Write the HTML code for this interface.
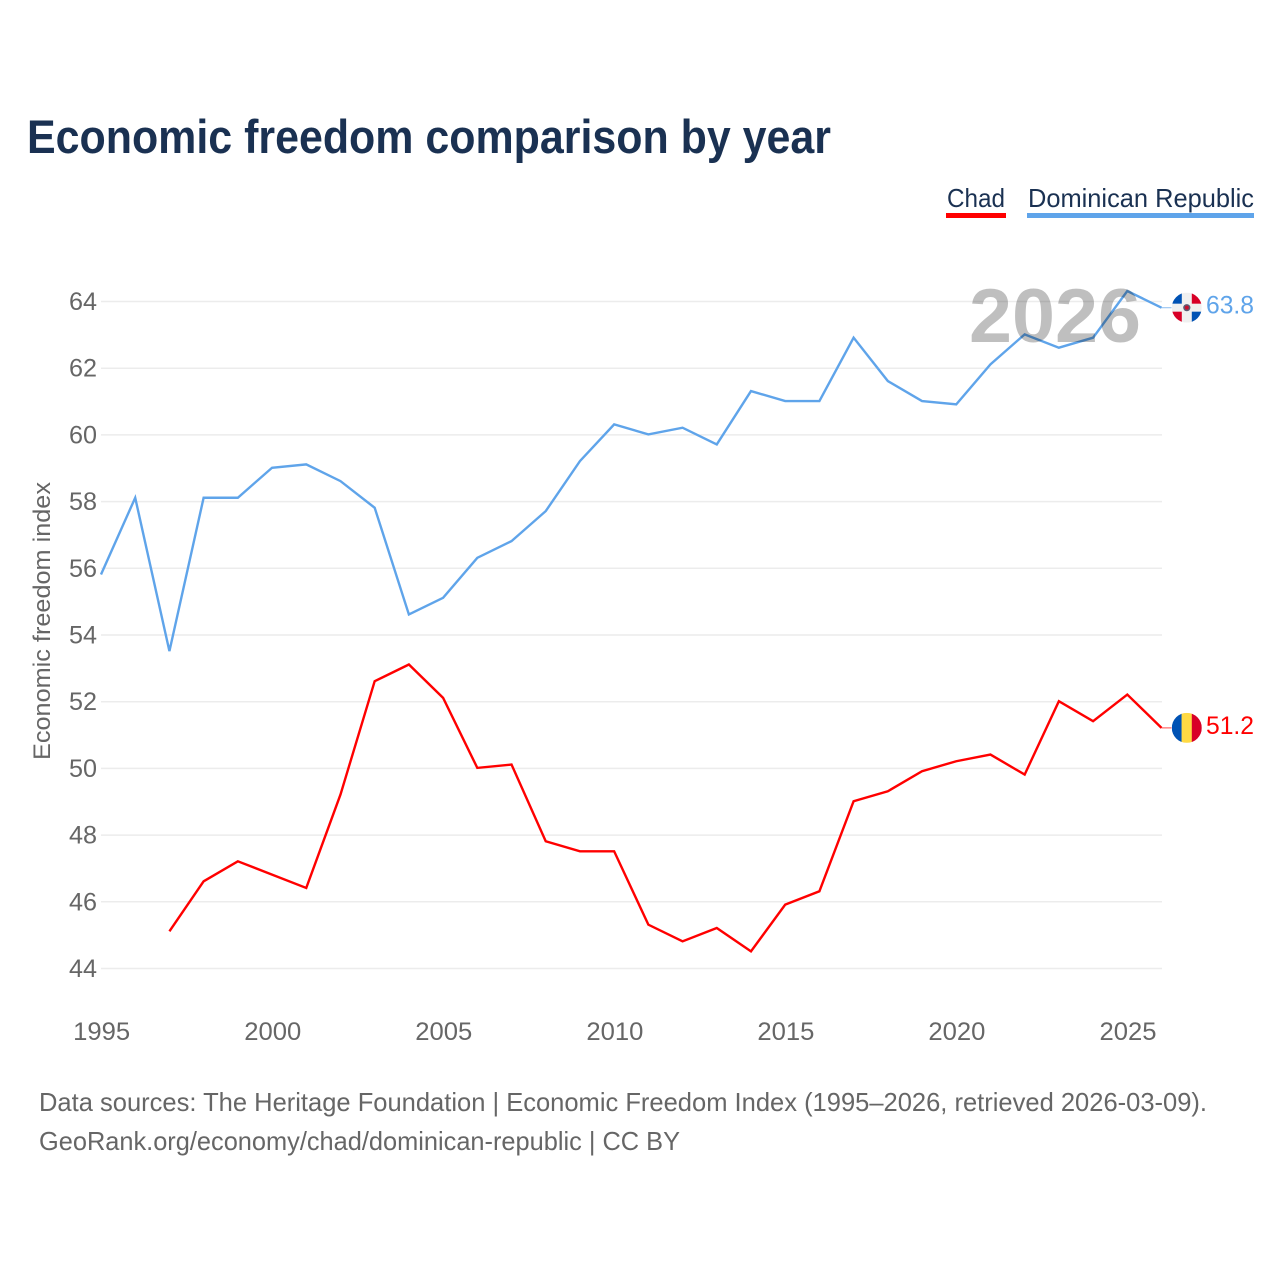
<!DOCTYPE html>
<html lang="en">
<head>
<meta charset="utf-8">
<title>Economic freedom comparison by year</title>
<style>
html,body{margin:0;padding:0;background:#fff;width:1280px;height:1280px;overflow:hidden}
svg{display:block}
text{font-family:"Liberation Sans",sans-serif}
</style>
</head>
<body>
<svg id="chart" xmlns="http://www.w3.org/2000/svg" width="1280" height="1280" viewBox="0 0 1280 1280">
  <defs>
    <clipPath id="flag-clip"><circle cx="0" cy="0" r="15"></circle></clipPath>
  </defs>
  <rect x="0" y="0" width="1280" height="1280" fill="#ffffff"></rect>
  <text x="27" y="153" font-size="47" font-weight="700" fill="#1a3152" textLength="804" lengthAdjust="spacingAndGlyphs">Economic freedom comparison by year</text>

  <g>
    <text x="947" y="207" font-size="26" fill="#1a3152" textLength="58" lengthAdjust="spacingAndGlyphs">Chad</text>
    <rect x="946" y="213" width="60" height="5" fill="#ff0000"></rect>
  </g>
  <g>
    <text x="1028" y="207" font-size="26" fill="#1a3152" textLength="226" lengthAdjust="spacingAndGlyphs">Dominican Republic</text>
    <rect x="1027" y="213" width="227" height="5" fill="#5fa4ea"></rect>
  </g>

  <g id="grid"></g>
  <g id="y-ticks"></g>
  <g id="x-ticks"></g>
  <text transform="translate(50 621) rotate(-90)" text-anchor="middle" font-size="24" fill="#666666" textLength="278" lengthAdjust="spacingAndGlyphs">Economic freedom index</text>

  <g id="series"></g>

  <text x="969" y="342" font-size="76" font-weight="700" fill="#000000" fill-opacity="0.25" textLength="172" lengthAdjust="spacingAndGlyphs">2026</text>

  <g id="flag-dr">
    <g clip-path="url(#flag-clip)">
      <rect x="-15" y="-15" width="30" height="30" fill="#f0f0f0"></rect>
      <rect x="-15" y="-15" width="10" height="11" fill="#0052b4"></rect>
      <rect x="5" y="-15" width="10" height="11" fill="#d80027"></rect>
      <rect x="-15" y="4" width="10" height="11" fill="#d80027"></rect>
      <rect x="5" y="4" width="10" height="11" fill="#0052b4"></rect>
      <circle cx="0" cy="0" r="3.6" fill="#5b5b72"></circle>
      <circle cx="0" cy="0" r="2" fill="#c8102e"></circle>
    </g>
  </g>
  <g id="flag-td">
    <g clip-path="url(#flag-clip)">
      <rect x="-15" y="-15" width="10" height="30" fill="#0052b4"></rect>
      <rect x="-5.2" y="-15" width="10.4" height="30" fill="#ffda44"></rect>
      <rect x="5" y="-15" width="10" height="30" fill="#d80027"></rect>
    </g>
  </g>
  <text id="end-label-dr" x="1254" text-anchor="end" font-size="25" fill="#5fa4ea"></text>
  <text id="end-label-td" x="1254" text-anchor="end" font-size="25" fill="#ff0000"></text>

  <text x="39" y="1111" font-size="26" fill="#666666" textLength="1168" lengthAdjust="spacingAndGlyphs">Data sources: The Heritage Foundation | Economic Freedom Index (1995–2026, retrieved 2026-03-09).</text>
  <text x="39" y="1150" font-size="26" fill="#666666" textLength="641" lengthAdjust="spacingAndGlyphs">GeoRank.org/economy/chad/dominican-republic | CC BY</text>
</svg>
<script>
var years = [1995,1996,1997,1998,1999,2000,2001,2002,2003,2004,2005,2006,2007,2008,2009,2010,2011,2012,2013,2014,2015,2016,2017,2018,2019,2020,2021,2022,2023,2024,2025,2026];
var dominicanRepublic = [55.8,58.1,53.5,58.1,58.1,59.0,59.1,58.6,57.8,54.6,55.1,56.3,56.8,57.7,59.2,60.3,60.0,60.2,59.7,61.3,61.0,61.0,62.9,61.6,61.0,60.9,62.1,63.0,62.6,62.9,64.3,63.8];
var chad = [null,null,45.1,46.6,47.2,46.8,46.4,49.2,52.6,53.1,52.1,50.0,50.1,47.8,47.5,47.5,45.3,44.8,45.2,44.5,45.9,46.3,49.0,49.3,49.9,50.2,50.4,49.8,52.0,51.4,52.2,51.2];
var yTickValues = [44,46,48,50,52,54,56,58,60,62,64];
var xTickValues = [1995,2000,2005,2010,2015,2020,2025];

var NS = 'http://www.w3.org/2000/svg';
var plotLeft = 101, plotRight = 1161.5, gridRight = 1162, plotBottom = 968, plotTop = 301;
function xScale(year) {
  return plotLeft + (year - 1995) * (plotRight - plotLeft) / (2026 - 1995);
}
function yScale(value) {
  return plotBottom - (value - 44) * (plotBottom - plotTop) / (64 - 44);
}
function make(tag, attrs, parent) {
  var el = document.createElementNS(NS, tag);
  for (var k in attrs) el.setAttribute(k, attrs[k]);
  parent.appendChild(el);
  return el;
}

var gridGroup = document.getElementById('grid');
var yGroup = document.getElementById('y-ticks');
yTickValues.forEach(function (v) {
  var line = make('line', {x1: plotLeft, x2: gridRight, y1: yScale(v) + 0.5, y2: yScale(v) + 0.5, stroke: '#ececec', 'stroke-width': 1.5}, gridGroup);
  
  
  var label = make('text', {x: 97, y: yScale(v) + 9, 'text-anchor': 'end', 'font-size': 25, fill: '#666666', textLength: 28, lengthAdjust: 'spacingAndGlyphs'}, yGroup);
  
  
  label.textContent = String(v);
});

var xGroup = document.getElementById('x-ticks');
xTickValues.forEach(function (y) {
  var label = make('text', {x: xScale(y) + 0.7, y: 1040, 'text-anchor': 'middle', 'font-size': 25, fill: '#666666', textLength: 57, lengthAdjust: 'spacingAndGlyphs'}, xGroup);
  
  
  label.textContent = String(y);
});

function drawSeries(values, color, name) {
  var d = '';
  values.forEach(function (v, i) {
    if (v === null) return;
    d += (d ? 'L' : 'M') + xScale(years[i]).toFixed(2) + ' ' + yScale(v).toFixed(2);
  });
  var path = make('path', {d: d, fill: 'none', stroke: color, 'stroke-width': 2.4, 'stroke-linejoin': 'miter'}, document.getElementById('series'));
  
  
  var last = values[values.length - 1];
  var leader = make('line', {x1: plotRight, x2: plotRight + 10, y1: yScale(last), y2: yScale(last), stroke: color, 'stroke-width': 1.2, 'stroke-opacity': 0.6}, document.getElementById('series'));
  
  
}
drawSeries(dominicanRepublic, '#5fa4ea', 'line-dominican-republic');
drawSeries(chad, '#ff0000', 'line-chad');

function placeEnd(values, flagId, labelId) {
  var last = values[values.length - 1];
  var y = yScale(last);
  document.getElementById(flagId).setAttribute('transform', 'translate(1186.8 ' + y.toFixed(2) + ')');
  var label = document.getElementById(labelId);
  label.setAttribute('y', (y + 6).toFixed(2));
  label.setAttribute('textLength', 48);
  label.setAttribute('lengthAdjust', 'spacingAndGlyphs');
  label.textContent = last.toFixed(1);
}
placeEnd(dominicanRepublic, 'flag-dr', 'end-label-dr');
placeEnd(chad, 'flag-td', 'end-label-td');
</script>
</body>
</html>
